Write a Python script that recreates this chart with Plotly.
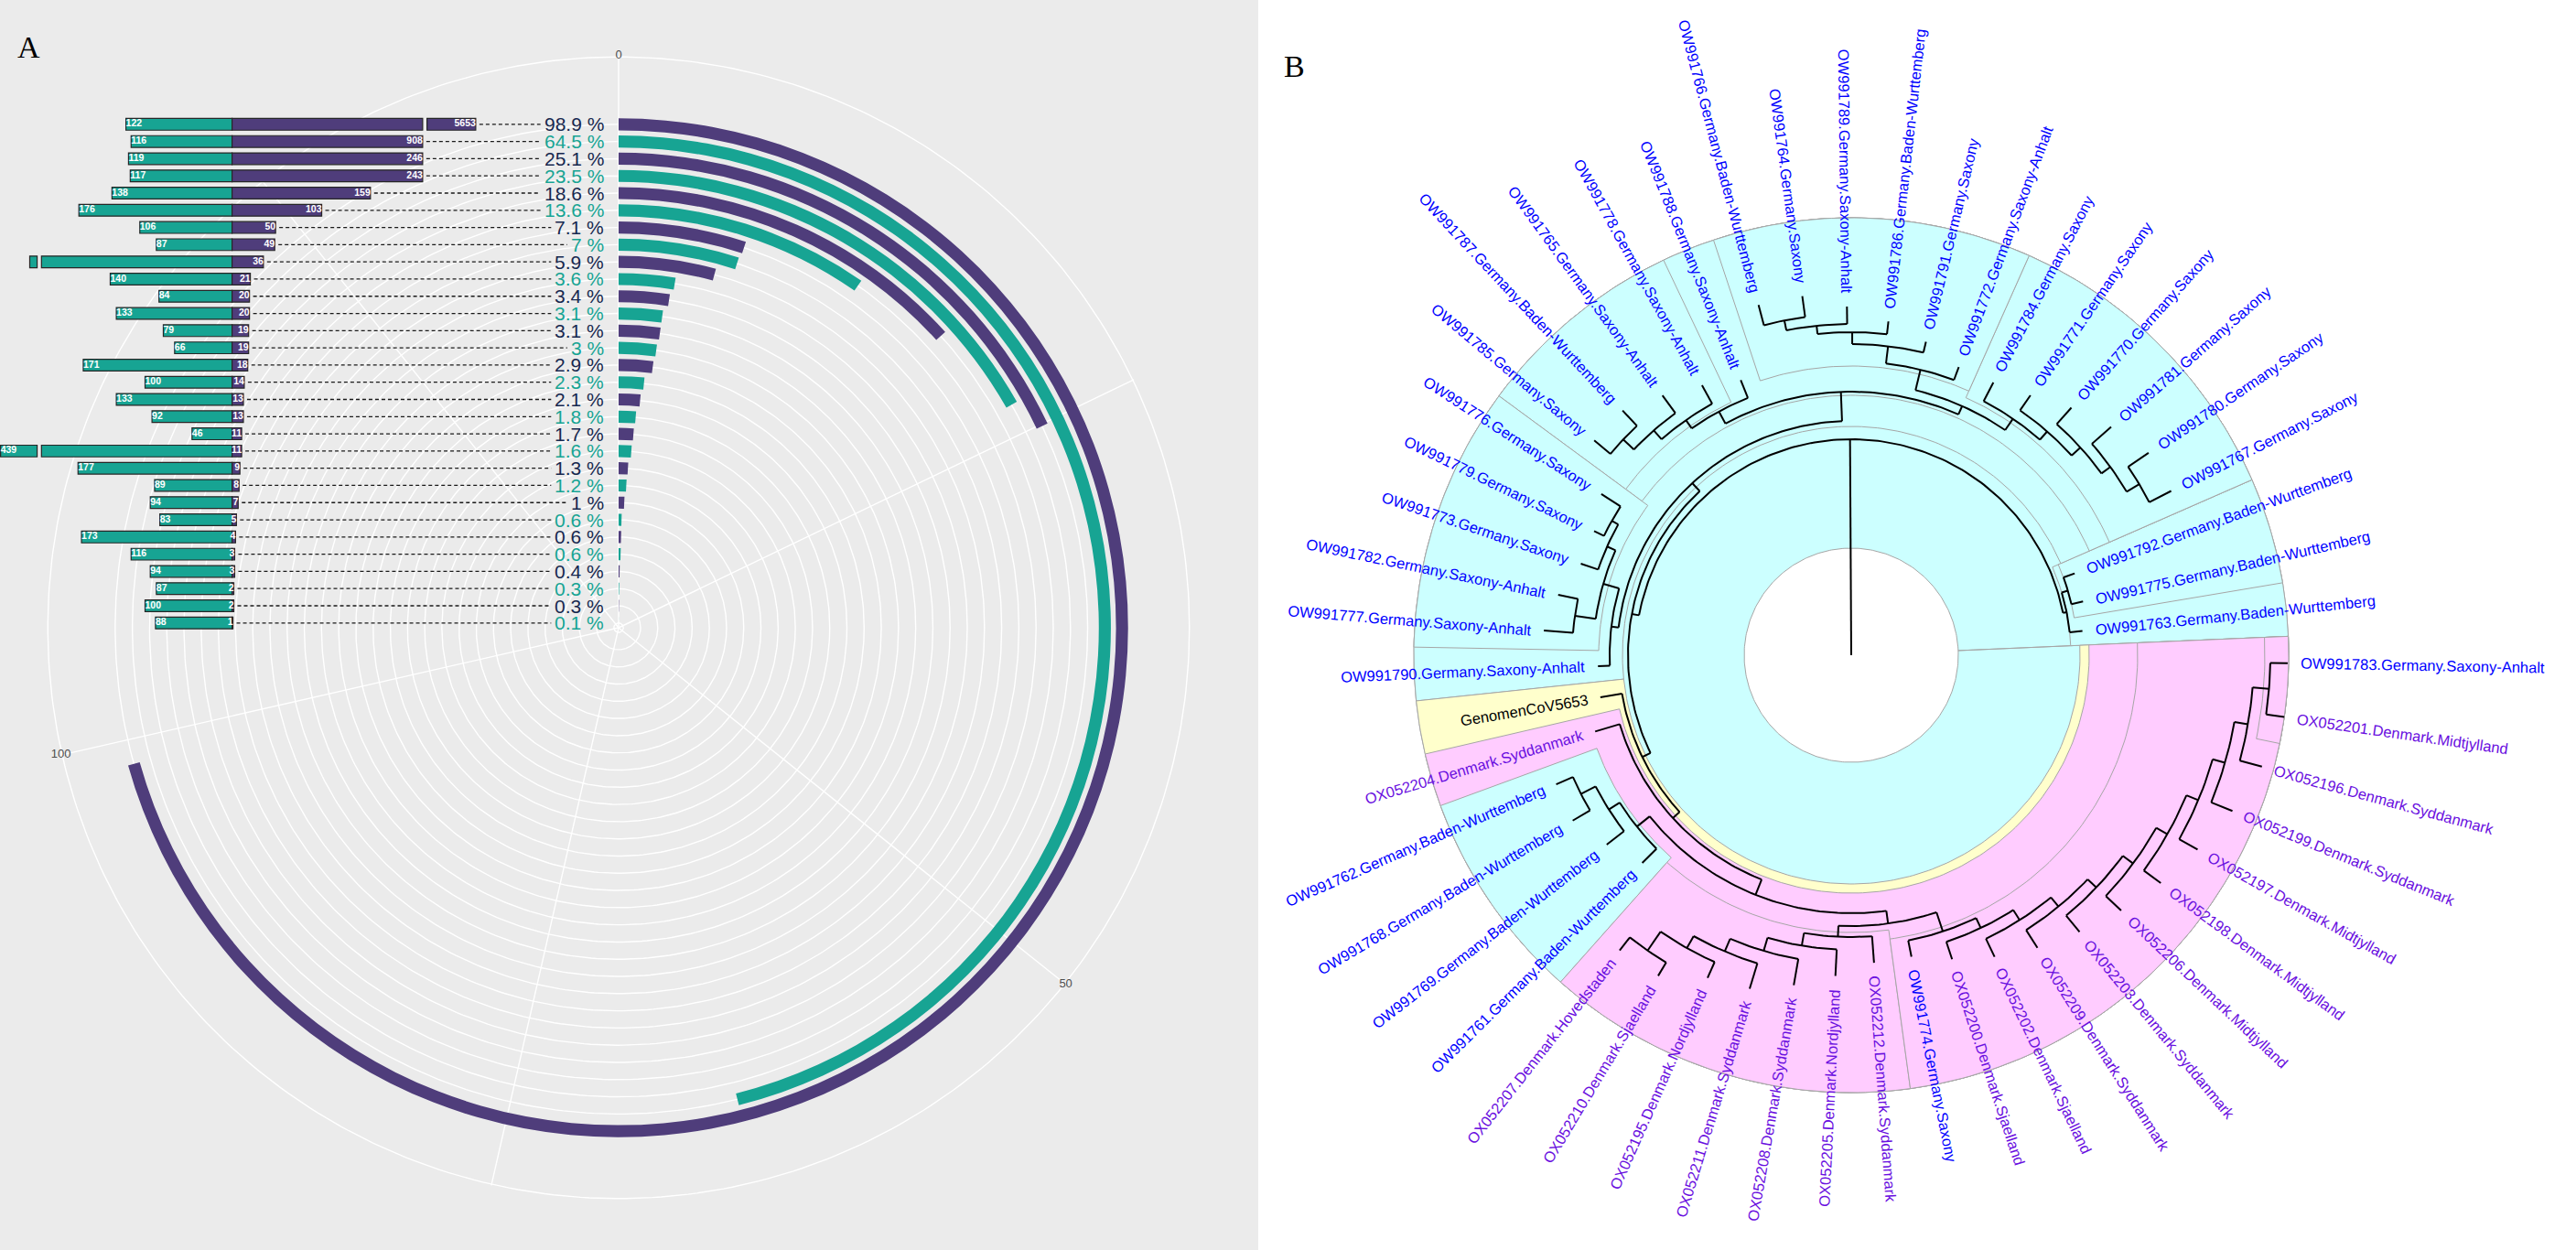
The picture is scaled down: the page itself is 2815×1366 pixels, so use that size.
import numpy as np
import plotly.graph_objects as go

W, H = 2815, 1366

# ---------------- panel A : values ----------------
percent = [98.9, 64.5, 25.1, 23.5, 18.6, 13.6, 7.1, 7, 5.9, 3.6, 3.4, 3.1, 3.1, 3,
           2.9, 2.3, 2.1, 1.8, 1.7, 1.6, 1.3, 1.2, 1, 0.6, 0.6, 0.6, 0.4, 0.3, 0.3, 0.1]
left_n = [122, 116, 119, 117, 138, 176, 106, 87, None, 140, 84, 133, 79, 66, 171,
          100, 133, 92, 46, 439, 177, 89, 94, 83, 173, 116, 94, 87, 100, 88]
right_n = [5653, 908, 246, 243, 159, 103, 50, 49, 36, 21, 20, 20, 19, 19, 18,
           14, 13, 13, 11, 11, 9, 8, 7, 5, 4, 3, 3, 2, 2, 1]
full_turn = 140
theta_ticks = [0, 25, 50, 75, 100, 125]
theta_labels = ['0', '', '50', '', '100', '']

# ---------------- panel B : tree ----------------
# tip = (label, radius) ; node = (radius, [children])
clade_a = (240, [("OW991763.Germany.Baden-Wurttemberg", 254),
                 (247, [("OW991775.Germany.Baden-Wurttemberg", 260),
                        ("OW991792.Germany.Baden-Wurttemberg", 260)])])
clade_r = (313, [(325, [(338, [(350, [(366, [("OW991767.Germany.Saxony", 393),
                                             ("OW991780.Germany.Saxony", 393)]),
                                      ("OW991781.Germany.Saxony", 378)]),
                               ("OW991770.Germany.Saxony", 362)]),
                        ("OW991771.Germany.Saxony", 345)]),
                 ("OW991784.Germany.Saxony", 336)])
clade_m = (321, [("OW991772.Germany.Saxony-Anhalt", 336),
                 (340, [("OW991791.Germany.Saxony", 352),
                        (353, [("OW991786.Germany.Baden-Wurttemberg", 367),
                               (362, [("OW991789.Germany.Saxony-Anhalt", 381),
                                      (373, [("OW991764.Germany.Saxony", 396),
                                             ("OW991766.Germany.Baden-Wurttemberg", 396)])])])])])
clade_l = (303, [("OW991788.Germany.Saxony-Anhalt", 324),
                 (314, [("OW991778.Germany.Saxony-Anhalt", 337),
                        (327, [("OW991765.Germany.Saxony-Anhalt", 351),
                               (343, [("OW991787.Germany.Baden-Wurttemberg", 366),
                                      ("OW991785.Germany.Saxony", 366)])])])])
clade_l2 = (282, [(292, [(300, [("OW991776.Germany.Saxony", 325),
                                ("OW991779.Germany.Saxony", 312)]),
                         ("OW991773.Germany.Saxony", 312)]),
                  (305, [("OW991782.Germany.Saxony-Anhalt", 327),
                         ("OW991777.Germany.Saxony-Anhalt", 337)])])
clade_c = (256, [(288, [(298, [clade_r, clade_m]), clade_l]),
                 (264, [clade_l2, ("OW991790.Germany.Saxony-Anhalt", 277)])])
clade_bw = (300, [(314, [(332, [("OW991762.Germany.Baden-Wurttemberg", 352),
                                ("OW991768.Germany.Baden-Wurttemberg", 354)]),
                         ("OW991769.Germany.Baden-Wurttemberg", 338)]),
                  ("OW991761.Germany.Baden-Wurttemberg", 322)])
clade_dk = (308, [(322, [(337, [(352, [(367, [(392, [("OX052207.Denmark.Hovedstaden", 410),
                                                     ("OX052210.Denmark.Sjaelland", 409)]),
                                              ("OX052195.Denmark.Nordjylland", 386)]),
                                       ("OX052211.Denmark.Syddanmark", 381)]),
                                ("OX052208.Denmark.Syddanmark", 366)]),
                         ("OX052205.Denmark.Nordjylland", 351)]),
                  ("OX052212.Denmark.Syddanmark", 337)])
ladder_tips = [("OW991774.Germany.Saxony", 336), ("OX052200.Denmark.Sjaelland", 350),
               ("OX052202.Denmark.Sjaelland", 365), ("OX052209.Denmark.Syddanmark", 379),
               ("OX052203.Denmark.Syddanmark", 392), ("OX052206.Denmark.Midtjylland", 406),
               ("OX052198.Denmark.Midtjylland", 420), ("OX052197.Denmark.Midtjylland", 434),
               ("OX052199.Denmark.Syddanmark", 450), ("OX052196.Denmark.Syddanmark", 465),
               ("OX052201.Denmark.Midtjylland", 478), ("OW991783.Germany.Saxony-Anhalt", 477)]
ladder_nodes = [318, 330, 343, 356, 369, 383, 397, 411, 425, 440, 458]
clade_rg = (ladder_nodes[-1], [ladder_tips[-2], ladder_tips[-1]])
for r_node, tip in zip(ladder_nodes[-2::-1], ladder_tips[-3::-1]):
    clade_rg = (r_node, [tip, clade_rg])
clade_d = (254, [("GenomenCoV5653", 278),
                 (264, [("OX052204.Denmark.Syddanmark", 292),
                        (282, [clade_bw, (296, [clade_dk, clade_rg])])])])
tree = (236, [clade_a, (244, [clade_c, clade_d])])

# highlighted clades: first tip, last tip, inner radius, colour
highlights = [
    ("OW991763", "OW991783", 117, "#CCFFFF"),
    ("OW991763", "OW991792", 240, "#CCFFFF"),
    ("OW991775", "OW991792", 247, "#CCFFFF"),
    ("OW991767", "OW991790", 250, "#CCFFFF"),
    ("OW991767", "OW991785", 284, "#CCFFFF"),
    ("OW991767", "OW991784", 308, "#CCFFFF"),
    ("OW991772", "OW991766", 316, "#CCFFFF"),
    ("OW991778", "OW991785", 306, "#CCFFFF"),
    ("OW991776", "OW991777", 276, "#CCFFFF"),
    ("GenomenCoV5653", "OW991783", 250, "#FFFFCC"),
    ("OX052204", "OW991783", 260, "#FFCCFF"),
    ("OW991762", "OW991761", 296, "#CCFFFF"),
    ("OX052207", "OX052212", 303, "#FFCCFF"),
    ("OW991774", "OW991783", 313, "#FFCCFF"),
    ("OX052201", "OW991783", 452, "#FFCCFF"),
]

PURPLE = "#4F3D7B"
TEAL = "#17A493"
NAVY = "#17284F"

fig = go.Figure()

# ---------------- panel A geometry ----------------
CX, CY, R_PX = 676, 686, 625
R_MAX = 33.26
RING0 = 0.277
n = len(percent)
unit = R_PX / R_MAX
ring = [RING0 + (n - 1 - i) for i in range(n)]
ring_col = [PURPLE if i % 2 == 0 else TEAL for i in range(n)]
text_col = [NAVY if i % 2 == 0 else TEAL for i in range(n)]
deg = 360 / full_turn

# grid (drawn under the horizontal bars)
gx, gy = [], []
t = np.linspace(0, 2 * np.pi, 400)
for r in ring + [R_MAX * 0.998]:
    gx += list(r * np.cos(t)) + [None]
    gy += list(r * np.sin(t)) + [None]
for tk in theta_ticks:
    a = np.radians(tk * deg)
    gx += [0, R_MAX * np.sin(a), None]
    gy += [0, R_MAX * np.cos(a), None]
fig.add_trace(go.Scatter(x=gx, y=gy, mode="lines", line=dict(color="white", width=1.4),
                         hoverinfo="skip", xaxis="x", yaxis="y"))
lab = [(tk, s) for tk, s in zip(theta_ticks, theta_labels) if s]
fig.add_trace(go.Scatter(x=[R_MAX * np.sin(np.radians(tk * deg)) for tk, s in lab],
                         y=[R_MAX * np.cos(np.radians(tk * deg)) for tk, s in lab],
                         text=[s for tk, s in lab], mode="text", cliponaxis=False,
                         textfont=dict(size=13, color="#4D4D4D", family="Liberation Sans"),
                         xaxis="x", yaxis="y"))

# horizontal bars with broken axis
cap, gap = 219, 5
stub_right = {0: 56}
stub_left = {8: 8.5, 19: 42}
ZERO_PX, K = 253.6, 0.951
LAB_PX = 661
lab_x = (LAB_PX - ZERO_PX) / K
rows = list(range(n))

fig.add_trace(go.Bar(y=rows, x=[-min(v, cap) if v is not None else -cap for v in left_n],
                     base=0, orientation="h", width=0.68, xaxis="x2", yaxis="y2",
                     marker=dict(color=TEAL, line=dict(color="#262626", width=1.2))))
fig.add_trace(go.Bar(y=rows, x=[min(v, cap) for v in right_n],
                     base=0, orientation="h", width=0.68, xaxis="x2", yaxis="y2",
                     marker=dict(color=PURPLE, line=dict(color="#262626", width=1.2))))
fig.add_trace(go.Bar(y=list(stub_left), x=[-s for s in stub_left.values()],
                     base=-(cap + gap), orientation="h", width=0.68, xaxis="x2", yaxis="y2",
                     marker=dict(color=TEAL, line=dict(color="#262626", width=1.2))))
fig.add_trace(go.Bar(y=list(stub_right), x=list(stub_right.values()),
                     base=cap + gap, orientation="h", width=0.68, xaxis="x2", yaxis="y2",
                     marker=dict(color=PURPLE, line=dict(color="#262626", width=1.2))))


def left_end(i):
    v = left_n[i]
    if i in stub_left:
        return cap + gap + stub_left[i]
    return min(v, cap)


def right_end(i):
    if i in stub_right:
        return cap + gap + stub_right[i]
    return min(right_n[i], cap)


lt = [i for i in rows if left_n[i] is not None]
fig.add_trace(go.Scatter(x=[-left_end(i) for i in lt], y=lt, text=[str(left_n[i]) for i in lt],
                         mode="text", textposition="middle right", cliponaxis=False,
                         textfont=dict(size=10.5, color="white", family="Liberation Sans Narrow, Liberation Sans", weight="bold"),
                         xaxis="x2", yaxis="y2"))
fig.add_trace(go.Scatter(x=[right_end(i) for i in rows], y=rows, text=[str(v) for v in right_n],
                         mode="text", textposition="middle left", cliponaxis=False,
                         textfont=dict(size=10.5, color="white", family="Liberation Sans Narrow, Liberation Sans", weight="bold"),
                         xaxis="x2", yaxis="y2"))

PCT_FS = 21


def text_px(s, size):
    w = {".": 0.278, " ": 0.278, "%": 0.889}
    return size * sum(w.get(c, 0.556) for c in s)


pct_text = [f"{p:g} %" for p in percent]
lx, ly = [], []
for i in rows:
    x0 = right_end(i) + 4 / K
    x1 = lab_x - (text_px(pct_text[i], PCT_FS) + 5) / K
    lx += [x0, x1, None]
    ly += [i, i, None]
fig.add_trace(go.Scatter(x=lx, y=ly, mode="lines", xaxis="x2", yaxis="y2",
                         line=dict(color="#1A1A1A", width=1.3, dash="4px,3px")))
for i in rows:
    fig.add_annotation(x=lab_x, y=i, xref="x2", yref="y2", text=pct_text[i], showarrow=False,
                       xanchor="right", yanchor="middle", borderpad=0,
                       font=dict(size=PCT_FS, color=text_col[i], family="Liberation Sans"))

# rings
fig.add_trace(go.Barpolar(r=[0.7] * n, base=[r - 0.35 for r in ring],
                          theta=[p * deg / 2 for p in percent], width=[p * deg for p in percent],
                          marker=dict(color=ring_col, line=dict(width=0)), subplot="polar"))

# ---------------- panel B geometry ----------------
R_OUT = 478
tips = []


def collect(node):
    if isinstance(node[0], str):
        tips.append(node)
    else:
        for c in node[1]:
            collect(c)


collect(tree)
step = 360 / len(tips)
tip_angle = {name: 6 + i * step for i, (name, r) in enumerate(tips)}
short = {name.split(".")[0]: name for name, r in tips}


def arc(r, a0, a1):
    tt = np.radians(np.linspace(a0, a1, int(abs(a1 - a0)) + 2))
    return list(r * np.cos(tt)), list(r * np.sin(tt))


for first, last, r_in, fill in highlights:
    a0 = tip_angle[short.get(first, first)] - step / 2
    a1 = tip_angle[short.get(last, last)] + step / 2
    ox, oy = arc(R_OUT, a0, a1)
    ix, iy = arc(r_in, a1, a0)
    fig.add_trace(go.Scatter(x=ox + ix + [ox[0]], y=oy + iy + [oy[0]], mode="lines",
                             fill="toself", fillcolor=fill, line=dict(color="#A6A6A6", width=1),
                             hoverinfo="skip", xaxis="x3", yaxis="y3"))

bx, by = [], []


def draw(node, parent_r):
    if isinstance(node[0], str):
        a, r = tip_angle[node[0]], node[1]
    else:
        r = node[0]
        angs = [draw(c, r) for c in node[1]]
        a = (angs[0] + angs[-1]) / 2
        ax, ay = arc(r, angs[0], angs[-1])
        bx.extend(ax + [None])
        by.extend(ay + [None])
    ra = np.radians(a)
    bx.extend([parent_r * np.cos(ra), r * np.cos(ra), None])
    by.extend([parent_r * np.sin(ra), r * np.sin(ra), None])
    return a


draw(tree, 0)
fig.add_trace(go.Scatter(x=bx, y=by, mode="lines", line=dict(color="black", width=2),
                         hoverinfo="skip", xaxis="x3", yaxis="y3"))

FS = 16.5
HB = 1.25 * FS + 2
for name, r in tips:
    a = tip_angle[name] % 360
    ra = np.radians(a)
    c, s = np.cos(ra), np.sin(ra)
    px, py = (r + 12) * c, (r + 12) * s
    ang = -a if (a < 90 or a > 270) else 180 - a
    colr = "#0000FF" if name.startswith("OW") else ("#6A0FE0" if name.startswith("OX") else "black")
    fig.add_annotation(x=px - np.sign(c) * HB * abs(s) / 2, y=py - np.sign(s) * HB * abs(c) / 2,
                       xref="x3", yref="y3", text=name, showarrow=False, textangle=ang,
                       xanchor="left" if c > 0 else "right", yanchor="bottom" if s > 0 else "top",
                       font=dict(size=FS, color=colr, family="Liberation Sans"))

# ---------------- layout ----------------
y_top = CY - (RING0 + n - 0.5) * unit
y_bot = CY - (RING0 - 0.5) * unit
axis_off = dict(visible=False, fixedrange=True)
fig.update_layout(
    width=W, height=H, margin=dict(l=0, r=0, t=0, b=0),
    paper_bgcolor="white", plot_bgcolor="rgba(0,0,0,0)", showlegend=False,
    barmode="overlay",
    xaxis=dict(domain=[(CX - R_PX) / W, (CX + R_PX) / W], range=[-R_MAX, R_MAX], anchor="y", **axis_off),
    yaxis=dict(domain=[(H - CY - R_PX) / H, (H - CY + R_PX) / H], range=[-R_MAX, R_MAX], anchor="x", **axis_off),
    xaxis2=dict(domain=[0, 1375 / W], range=[-ZERO_PX / K, (1375 - ZERO_PX) / K], anchor="y2", **axis_off),
    yaxis2=dict(domain=[1 - y_bot / H, 1 - y_top / H], range=[n - 0.5, -0.5], anchor="x2", **axis_off),
    xaxis3=dict(domain=[1380 / W, 1], range=[1380 - 2023, W - 2023], anchor="y3", **axis_off),
    yaxis3=dict(domain=[0, 1], range=[716 - H, 716], anchor="x3", **axis_off),
    polar=dict(
        domain=dict(x=[(CX - R_PX) / W, (CX + R_PX) / W], y=[(H - CY - R_PX) / H, (H - CY + R_PX) / H]),
        bgcolor="rgba(0,0,0,0)",
        radialaxis=dict(range=[0, R_MAX], visible=False),
        angularaxis=dict(rotation=90, direction="clockwise", showgrid=False, showline=False,
                         showticklabels=False, ticks=""),
    ),
    shapes=[dict(type="rect", xref="paper", yref="paper", x0=0, x1=1375 / W, y0=0, y1=1,
                 fillcolor="#EBEBEB", line=dict(width=0), layer="below")],
)
fig.add_annotation(x=17 / W, y=1 - 31 / H, xref="paper", yref="paper", text="A", showarrow=False,
                   font=dict(size=34, color="black", family="Liberation Serif"))
fig.add_annotation(x=1414 / W, y=1 - 52 / H, xref="paper", yref="paper", text="B", showarrow=False,
                   font=dict(size=34, color="black", family="Liberation Serif"))

fig.write_html("out.html", config={"displayModeBar": False},
               post_script="document.body.style.margin='0';document.body.style.overflow='hidden';")
